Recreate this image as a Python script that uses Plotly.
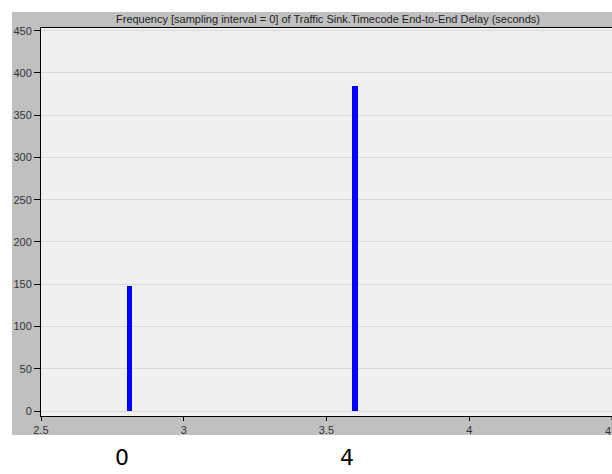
import plotly.graph_objects as go

# Data
delay_values = [2.81, 3.60]          # End-to-end delay (seconds)
frequencies = [148, 385]             # counts
bottom_labels = ["0", "4"]
title_text = "Frequency [sampling interval = 0] of Traffic Sink.Timecode End-to-End Delay (seconds)"
x_ticks = [2.5, 3, 3.5, 4]
edge_tick = 4.5                      # last tick, cut off at the right edge
y_ticks = [0, 50, 100, 150, 200, 250, 300, 350, 400, 450]

W, H = 612, 474
L, R, T, B = 41, 0, 28, 58
ph = H - T - B
pw = W - L - R

fig = go.Figure()
fig.add_trace(go.Bar(
    x=delay_values, y=frequencies, width=0.019,
    marker=dict(color="#0000ff", line=dict(width=0)),
    showlegend=False, hoverinfo="x+y",
))

shapes = [
    # grey panel
    dict(type="rect", xref="paper", yref="paper",
         x0=(12 - L) / pw, x1=1.0, y0=(T + ph - 435) / ph, y1=(T + ph - 12) / ph,
         fillcolor="#c0c0c0", line=dict(width=0), layer="below"),
    # plot area background
    dict(type="rect", xref="paper", yref="paper", x0=0, x1=1, y0=0, y1=1,
         fillcolor="#f0f0f0", line=dict(width=0), layer="below"),
    # tick mark for the edge tick
    dict(type="line", xref="x", yref="paper", x0=edge_tick, x1=edge_tick,
         y0=0, y1=-4 / ph, line=dict(color="#000000", width=1)),
]

tick_font = dict(family="Liberation Sans, Arial", size=11, color="#333333")

annotations = [
    dict(text=title_text, xref="paper", yref="paper",
         x=(328 - L) / pw, y=(T + ph - 19) / ph, showarrow=False,
         xanchor="center", yanchor="middle",
         font=dict(family="Liberation Sans, Arial", size=11, color="#222222")),
    dict(text=str(edge_tick), xref="x", yref="paper", x=edge_tick,
         y=(T + ph - 431) / ph, showarrow=False, xanchor="center", yanchor="middle",
         font=tick_font),
]
for xv, lab in zip(delay_values, bottom_labels):
    annotations.append(dict(
        text=lab, xref="x", yref="paper", x=xv, xshift=-8,
        y=(T + ph - 457) / ph, showarrow=False, xanchor="center", yanchor="middle",
        font=dict(family="DejaVu Sans", size=22, color="#000000")))

fig.update_layout(
    width=W, height=H,
    margin=dict(l=L, r=R, t=T, b=B, pad=0),
    paper_bgcolor="#ffffff",
    plot_bgcolor="rgba(0,0,0,0)",
    shapes=shapes,
    annotations=annotations,
    bargap=0,
    xaxis=dict(
        range=[2.5, 4.5], tickvals=x_ticks, ticktext=[str(v) for v in x_ticks],
        showgrid=False, zeroline=False,
        showline=True, linecolor="#000000", linewidth=1, mirror=True,
        ticks="outside", ticklen=4, tickcolor="#000000",
        tickfont=tick_font,
    ),
    yaxis=dict(
        range=[-5.9, 453.2], tickvals=y_ticks,
        showgrid=True, gridcolor="#d9d9d9", gridwidth=1, zeroline=False,
        showline=True, linecolor="#000000", linewidth=1,
        ticks="outside", ticklen=6, tickcolor="#000000",
        tickfont=tick_font,
    ),
)

fig.write_html("out.html")
